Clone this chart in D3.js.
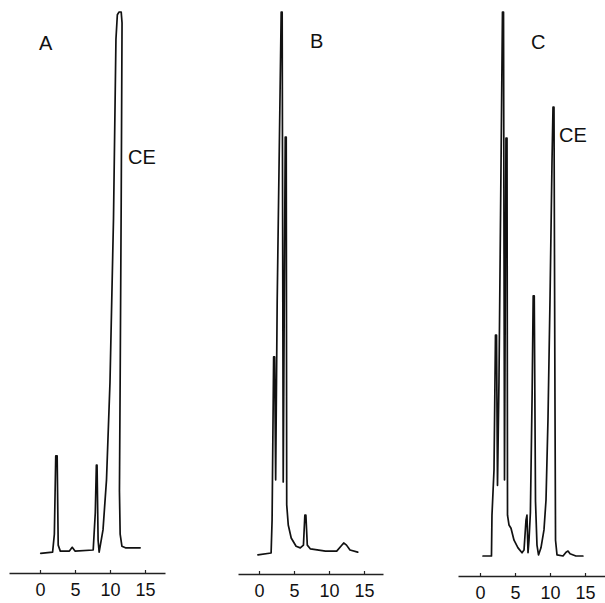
<!DOCTYPE html>
<html>
<head>
<meta charset="utf-8">
<script src="https://cdn.jsdelivr.net/npm/d3@7/dist/d3.min.js"></script>
<style>
  html, body { margin: 0; padding: 0; background: #fff; }
  svg { display: block; }
  text { font-family: "Liberation Sans", Arial, sans-serif; fill: #111; }
</style>
</head>
<body>
<svg id="chart" width="605" height="603"></svg>
<script>
// ---- Data (time in min, detector signal in % of full scale) ----
const tickValues = [0, 5, 10, 15];
const panelLabels = ["A", "B", "C"];
const peakLabel = "CE";

const timeA   = [0.1, 1.8, 2.05, 2.25, 2.45, 2.6, 2.9, 4.2, 4.6, 5.0, 7.6, 7.9, 8.05, 8.15, 8.3, 8.45, 9.0, 9.5, 10.0, 10.5, 10.85, 11.05, 11.3, 11.6, 11.72, 11.6, 11.45, 11.35, 11.45, 11.7, 12.2, 14.3];
const signalA = [0.5, 0.7, 4, 18.4, 18.4, 2, 0.9, 0.9, 1.6, 0.9, 1.1, 8, 16.7, 16.7, 2.9, 0.7, 4.8, 14, 32, 62, 95, 99.5, 100, 100, 98, 65, 32, 12, 4, 1.8, 1.5, 1.5];

const timeB   = [-0.15, 1.73, 1.87, 2.09, 2.23, 2.38, 2.6, 3.17, 3.31, 3.46, 3.75, 3.89, 3.96, 4.18, 4.6, 5.3, 5.9, 6.35, 6.55, 6.7, 6.9, 7.35, 9.5, 11.1, 11.7, 12.1, 12.5, 13.0, 14.1];
const signalB = [0.2, 0.55, 6.6, 36.6, 36.6, 14, 47, 100, 100, 13.6, 77, 77, 9.4, 5.7, 3.3, 1.8, 1.5, 2, 7.5, 7.5, 2, 1.3, 0.9, 0.9, 1.8, 2.4, 2, 1.1, 0.7];

const timeC   = [0.43, 1.64, 1.71, 2.0, 2.21, 2.36, 2.5, 2.71, 3.21, 3.36, 3.5, 3.71, 3.86, 3.93, 4.14, 4.43, 4.86, 5.43, 6.0, 6.29, 6.57, 6.71, 6.86, 7.0, 7.2, 7.45, 7.6, 7.75, 7.93, 8.14, 8.36, 8.71, 9.14, 9.43, 9.71, 10.0, 10.29, 10.43, 10.57, 10.71, 10.79, 11.0, 11.86, 12.29, 12.57, 12.86, 13.7, 14.7];
const signalC = [0, 0, 7.5, 15.8, 40.6, 40.6, 13, 32, 100, 100, 14, 76.8, 76.8, 7.5, 5.7, 5.1, 2.9, 1.5, 0.6, 1.1, 6.6, 7.5, 0.6, 2.9, 8, 30, 47.8, 47.8, 10, 2, 0.2, 1.5, 4.8, 10.3, 25, 47, 72.8, 82.5, 82.5, 28.7, 2.9, 0.2, 0, 0.7, 0.9, 0.4, 0, 0];

// ---- Layout ----
const panels = [
  { label: panelLabels[0], t: timeA, s: signalA, x0: 40,  xMin: 9,   xMax: 165, axisY: 573, labelX: 39,  labelY: 50, ce: { x: 128, y: 164 } },
  { label: panelLabels[1], t: timeB, s: signalB, x0: 259, xMin: 238, xMax: 383, axisY: 574, labelX: 310, labelY: 48, ce: null },
  { label: panelLabels[2], t: timeC, s: signalC, x0: 480, xMin: 458, xMax: 605, axisY: 576, labelX: 531, labelY: 49, ce: { x: 559, y: 142 } }
];
const pxPerMin = 7;

const svg = d3.select("#chart");
const y = d3.scaleLinear().domain([0, 100]).range([556, 12]);

panels.forEach(p => {
  const x = d3.scaleLinear()
    .domain([(p.xMin - p.x0) / pxPerMin, (p.xMax - p.x0) / pxPerMin])
    .range([p.xMin, p.xMax]);

  const g = svg.append("g");

  const pts = p.t.map((t, i) => [t, p.s[i]]);
  g.append("path")
    .datum(pts)
    .attr("fill", "none")
    .attr("stroke", "#111")
    .attr("stroke-width", 1.7)
    .attr("stroke-linejoin", "round")
    .attr("stroke-linecap", "round")
    .attr("d", d3.line().x(d => x(d[0])).y(d => y(d[1])));

  const axis = d3.axisBottom(x)
    .tickValues(tickValues)
    .tickSizeInner(-3)
    .tickSizeOuter(0)
    .tickPadding(10);

  const ag = g.append("g")
    .attr("transform", `translate(0,${p.axisY})`)
    .call(axis);
  ag.select(".domain").attr("stroke", "#222").attr("stroke-width", 1.4);
  ag.selectAll(".tick line").attr("stroke", "#222").attr("stroke-width", 1.2);
  ag.selectAll(".tick text")
    .attr("font-family", "Liberation Sans, Arial, sans-serif")
    .attr("font-size", 18)
    .attr("fill", "#111");

  g.append("text")
    .attr("x", p.labelX)
    .attr("y", p.labelY)
    .attr("font-size", 20)
    .text(p.label);

  if (p.ce) {
    g.append("text")
      .attr("x", p.ce.x)
      .attr("y", p.ce.y)
      .attr("font-size", 20)
      .text(peakLabel);
  }
});
</script>
</body>
</html>
